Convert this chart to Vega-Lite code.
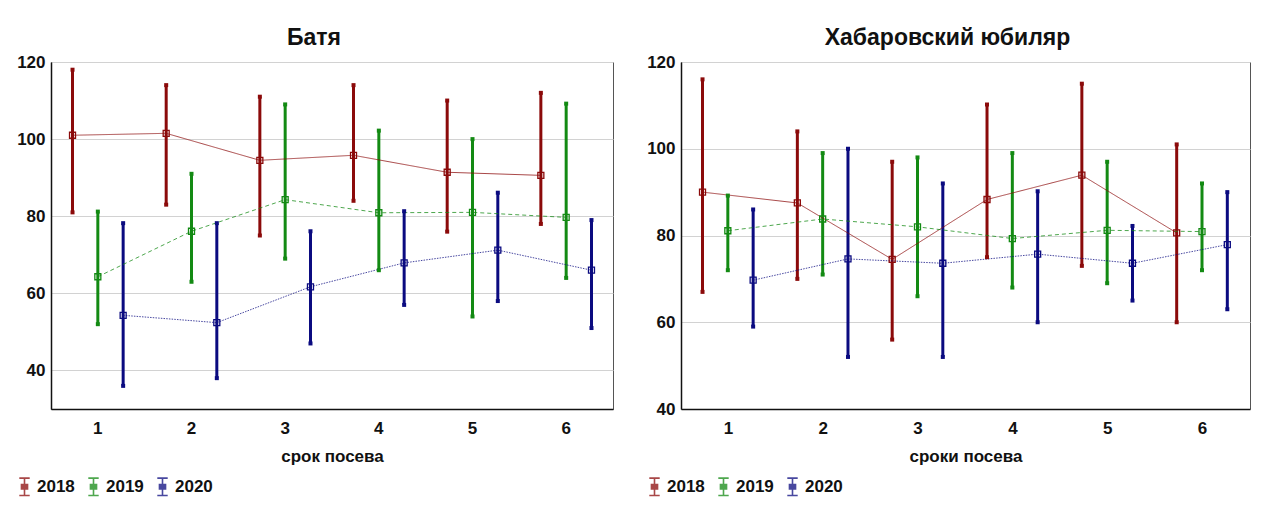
{
  "$schema": "https://vega.github.io/schema/vega-lite/v6.json",
  "padding": {"left": 14, "top": 26, "right": 0, "bottom": 0},
  "background": "white",
  "spacing": 30,
  "config": {
    "font": "Liberation Sans",
    "view": {"stroke": "#555555", "strokeWidth": 1},
    "axis": {
      "labelFont": "Liberation Sans", "labelFontSize": 17, "labelFontWeight": "bold", "labelColor": "#111111",
      "titleFont": "Liberation Sans", "titleFontSize": 17, "titleFontWeight": "bold", "titleColor": "#111111",
      "domainColor": "#111111", "domainWidth": 1.5, "ticks": false
    },
    "title": {"font": "Liberation Sans", "fontSize": 23, "fontWeight": "bold", "color": "#111111", "frame": "bounds", "anchor": "middle", "offset": 3},
    "legend": {"labelFont": "Liberation Sans", "labelFontSize": 17, "labelFontWeight": "bold", "labelColor": "#111111"}
  },
  "datasets": {
    "batya": [
      {"srok": "1", "year": "2018", "mean": 101, "lo": 81, "hi": 118},
      {"srok": "2", "year": "2018", "mean": 101.5, "lo": 83, "hi": 114},
      {"srok": "3", "year": "2018", "mean": 94.5, "lo": 75, "hi": 111},
      {"srok": "4", "year": "2018", "mean": 95.8, "lo": 84, "hi": 114},
      {"srok": "5", "year": "2018", "mean": 91.4, "lo": 76, "hi": 110},
      {"srok": "6", "year": "2018", "mean": 90.6, "lo": 78, "hi": 112},
      {"srok": "1", "year": "2019", "mean": 64.3, "lo": 52, "hi": 81.2},
      {"srok": "2", "year": "2019", "mean": 76.1, "lo": 63, "hi": 91},
      {"srok": "3", "year": "2019", "mean": 84.3, "lo": 69, "hi": 109},
      {"srok": "4", "year": "2019", "mean": 80.9, "lo": 66, "hi": 102.2},
      {"srok": "5", "year": "2019", "mean": 81, "lo": 54, "hi": 100},
      {"srok": "6", "year": "2019", "mean": 79.7, "lo": 64, "hi": 109.2},
      {"srok": "1", "year": "2020", "mean": 54.3, "lo": 36, "hi": 78.2},
      {"srok": "2", "year": "2020", "mean": 52.4, "lo": 38, "hi": 78.2},
      {"srok": "3", "year": "2020", "mean": 61.7, "lo": 47, "hi": 76.1},
      {"srok": "4", "year": "2020", "mean": 67.9, "lo": 57, "hi": 81.3},
      {"srok": "5", "year": "2020", "mean": 71.2, "lo": 58, "hi": 86.1},
      {"srok": "6", "year": "2020", "mean": 66, "lo": 51, "hi": 79}
    ],
    "khab": [
      {"srok": "1", "year": "2018", "mean": 90, "lo": 67, "hi": 116},
      {"srok": "2", "year": "2018", "mean": 87.5, "lo": 70, "hi": 104},
      {"srok": "3", "year": "2018", "mean": 74.5, "lo": 56, "hi": 97},
      {"srok": "4", "year": "2018", "mean": 88.3, "lo": 75, "hi": 110.2},
      {"srok": "5", "year": "2018", "mean": 93.9, "lo": 73, "hi": 115},
      {"srok": "6", "year": "2018", "mean": 80.6, "lo": 60, "hi": 101},
      {"srok": "1", "year": "2019", "mean": 81.1, "lo": 72, "hi": 89.2},
      {"srok": "2", "year": "2019", "mean": 83.8, "lo": 71, "hi": 99},
      {"srok": "3", "year": "2019", "mean": 82, "lo": 66, "hi": 98},
      {"srok": "4", "year": "2019", "mean": 79.3, "lo": 68, "hi": 99},
      {"srok": "5", "year": "2019", "mean": 81.2, "lo": 69, "hi": 97},
      {"srok": "6", "year": "2019", "mean": 80.9, "lo": 72, "hi": 92},
      {"srok": "1", "year": "2020", "mean": 69.7, "lo": 59, "hi": 86},
      {"srok": "2", "year": "2020", "mean": 74.6, "lo": 52, "hi": 100},
      {"srok": "3", "year": "2020", "mean": 73.6, "lo": 52, "hi": 92},
      {"srok": "4", "year": "2020", "mean": 75.7, "lo": 60, "hi": 90.2},
      {"srok": "5", "year": "2020", "mean": 73.6, "lo": 65, "hi": 82.2},
      {"srok": "6", "year": "2020", "mean": 77.9, "lo": 63, "hi": 90}
    ]
  },
  "resolve": {"scale": {"color": "independent", "y": "independent", "x": "independent"}, "legend": {"color": "independent"}},
  "hconcat": [
    {
      "width": 562, "height": 347,
      "data": {"name": "batya"},
      "title": {"text": "Батя"},
      "encoding": {
        "x": {"field": "srok", "type": "ordinal", "scale": {"paddingInner": 0, "paddingOuter": 0}, "axis": {"title": "срок посева", "labelAngle": 0, "labelPadding": 11, "titlePadding": 12, "grid": false}},
        "xOffset": {"field": "year", "type": "nominal", "scale": {"type": "point", "padding": 0.85}},
        "color": {"field": "year", "type": "nominal", "scale": {"domain": ["2018", "2019", "2020"], "range": ["#8b0a0a", "#138a13", "#0b0b80"]},
          "legend": {"orient": "none", "legendX": -36, "legendY": 415, "direction": "horizontal", "title": null, "symbolType": "M-0.6,-1H0.6M0,-1V1M-0.6,1H0.6M-0.35,-0.25H0.35V0.25H-0.35Z", "symbolSize": 300, "symbolStrokeWidth": 1.6, "symbolFillColor": "transparent", "labelOffset": 3, "columnPadding": 9}}
      },
      "layer": [
        {"mark": {"type": "rule", "strokeWidth": 3}, "encoding": {"y": {"field": "lo", "type": "quantitative", "scale": {"domain": [30, 120]}, "axis": {"values": [40, 60, 80, 100, 120], "title": null, "grid": true, "gridColor": "#d2d2d2", "labelPadding": 6}}, "y2": {"field": "hi"}}},
        {"mark": {"type": "line", "strokeWidth": 1, "opacity": 0.75}, "encoding": {"y": {"field": "mean", "type": "quantitative"}, "strokeDash": {"field": "year", "type": "nominal", "scale": {"domain": ["2018", "2019", "2020"], "range": [[1, 0], [4, 3], [1.5, 1.2]]}, "legend": null}}},
        {"mark": {"type": "point", "shape": "square", "filled": true, "size": 16, "opacity": 1}, "encoding": {"y": {"field": "lo", "type": "quantitative"}}},
        {"mark": {"type": "point", "shape": "square", "filled": true, "size": 16, "opacity": 1}, "encoding": {"y": {"field": "hi", "type": "quantitative"}}},
        {"mark": {"type": "point", "shape": "square", "filled": false, "size": 36, "strokeWidth": 1.3, "opacity": 1}, "encoding": {"y": {"field": "mean", "type": "quantitative"}}}
      ]
    },
    {
      "width": 569, "height": 347,
      "data": {"name": "khab"},
      "title": {"text": "Хабаровский юбиляр"},
      "encoding": {
        "x": {"field": "srok", "type": "ordinal", "scale": {"paddingInner": 0, "paddingOuter": 0}, "axis": {"title": "сроки посева", "labelAngle": 0, "labelPadding": 11, "titlePadding": 12, "grid": false}},
        "xOffset": {"field": "year", "type": "nominal", "scale": {"type": "point", "padding": 0.85}},
        "color": {"field": "year", "type": "nominal", "scale": {"domain": ["2018", "2019", "2020"], "range": ["#8b0a0a", "#138a13", "#0b0b80"]},
          "legend": {"orient": "none", "legendX": -36, "legendY": 415, "direction": "horizontal", "title": null, "symbolType": "M-0.6,-1H0.6M0,-1V1M-0.6,1H0.6M-0.35,-0.25H0.35V0.25H-0.35Z", "symbolSize": 300, "symbolStrokeWidth": 1.6, "symbolFillColor": "transparent", "labelOffset": 3, "columnPadding": 9}}
      },
      "layer": [
        {"mark": {"type": "rule", "strokeWidth": 3}, "encoding": {"y": {"field": "lo", "type": "quantitative", "scale": {"domain": [40, 120]}, "axis": {"values": [40, 60, 80, 100, 120], "title": null, "grid": true, "gridColor": "#d2d2d2", "labelPadding": 6}}, "y2": {"field": "hi"}}},
        {"mark": {"type": "line", "strokeWidth": 1, "opacity": 0.75}, "encoding": {"y": {"field": "mean", "type": "quantitative"}, "strokeDash": {"field": "year", "type": "nominal", "scale": {"domain": ["2018", "2019", "2020"], "range": [[1, 0], [4, 3], [1.5, 1.2]]}, "legend": null}}},
        {"mark": {"type": "point", "shape": "square", "filled": true, "size": 16, "opacity": 1}, "encoding": {"y": {"field": "lo", "type": "quantitative"}}},
        {"mark": {"type": "point", "shape": "square", "filled": true, "size": 16, "opacity": 1}, "encoding": {"y": {"field": "hi", "type": "quantitative"}}},
        {"mark": {"type": "point", "shape": "square", "filled": false, "size": 36, "strokeWidth": 1.3, "opacity": 1}, "encoding": {"y": {"field": "mean", "type": "quantitative"}}}
      ]
    }
  ]
}
